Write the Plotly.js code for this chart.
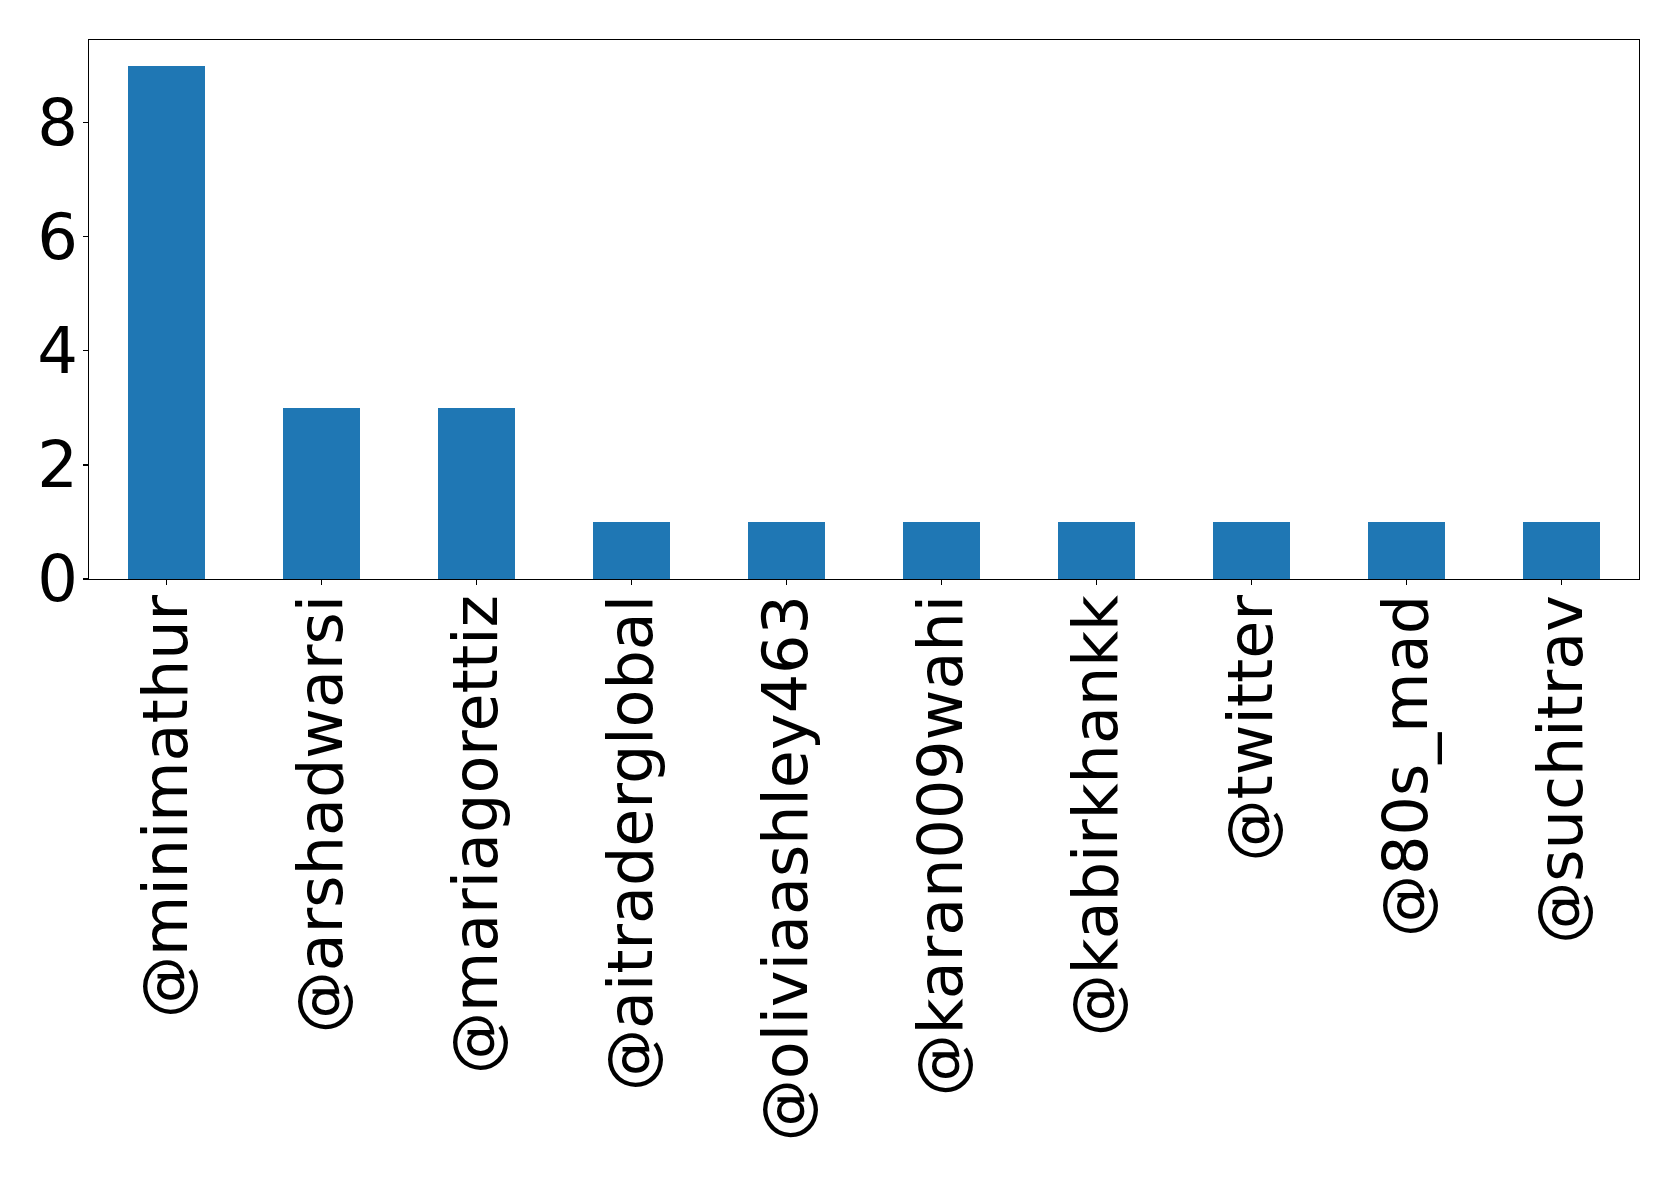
<!DOCTYPE html>
<html>
<head>
<meta charset="utf-8">
<script src="https://cdn.plot.ly/plotly-3.0.1.min.js"></script>
<style>html,body{margin:0;padding:0;background:#fff;}#chart{width:1679px;height:1179px;}</style>
</head>
<body>
<div id="chart"></div>
<script>
const users = ["@minimathur","@arshadwarsi","@mariagorettiz","@aitraderglobal","@oliviaashley463","@karan009wahi","@kabirkhankk","@twitter","@80s_mad","@suchitrav"];
const counts = [9,3,3,1,1,1,1,1,1,1];
const yTicks = [0,2,4,6,8];

const trace = {
  type: 'bar',
  x: users.map((u,i)=>i),
  y: counts,
  width: 0.5,
  marker: {color: '#1f77b4', line: {width: 0}},
  hoverinfo: 'skip'
};

const layout = {
  width: 1679, height: 1179,
  margin: {l: 89, r: 40, t: 40, b: 600, pad: 0},
  paper_bgcolor: '#fff', plot_bgcolor: '#fff',
  font: {family: 'DejaVu Sans', size: 62, color: '#000'},
  showlegend: false,
  bargap: 0,
  xaxis: {
    range: [-0.5, 9.5],
    tickmode: 'array',
    tickvals: users.map((u,i)=>i),
    ticktext: users,
    tickangle: -90,
    ticks: 'outside', ticklen: 5, tickwidth: 1.2, tickcolor: '#000',
    ticklabelstandoff: -15,
    showgrid: false, zeroline: false,
    showline: true, linecolor: '#000', linewidth: 1.2, mirror: true,
    tickfont: {family: 'DejaVu Sans', size: 62, color: '#000'}
  },
  yaxis: {
    range: [0, 9.45],
    tickmode: 'array',
    tickvals: yTicks,
    ticktext: yTicks.map(String),
    ticks: 'outside', ticklen: 5, tickwidth: 1.2, tickcolor: '#000',
    ticklabelstandoff: -8,
    showgrid: false, zeroline: false,
    showline: true, linecolor: '#000', linewidth: 1.2, mirror: true,
    tickfont: {family: 'DejaVu Sans', size: 64, color: '#000'}
  }
};

Plotly.newPlot('chart', [trace], layout, {displayModeBar: false, staticPlot: true});
</script>
</body>
</html>
